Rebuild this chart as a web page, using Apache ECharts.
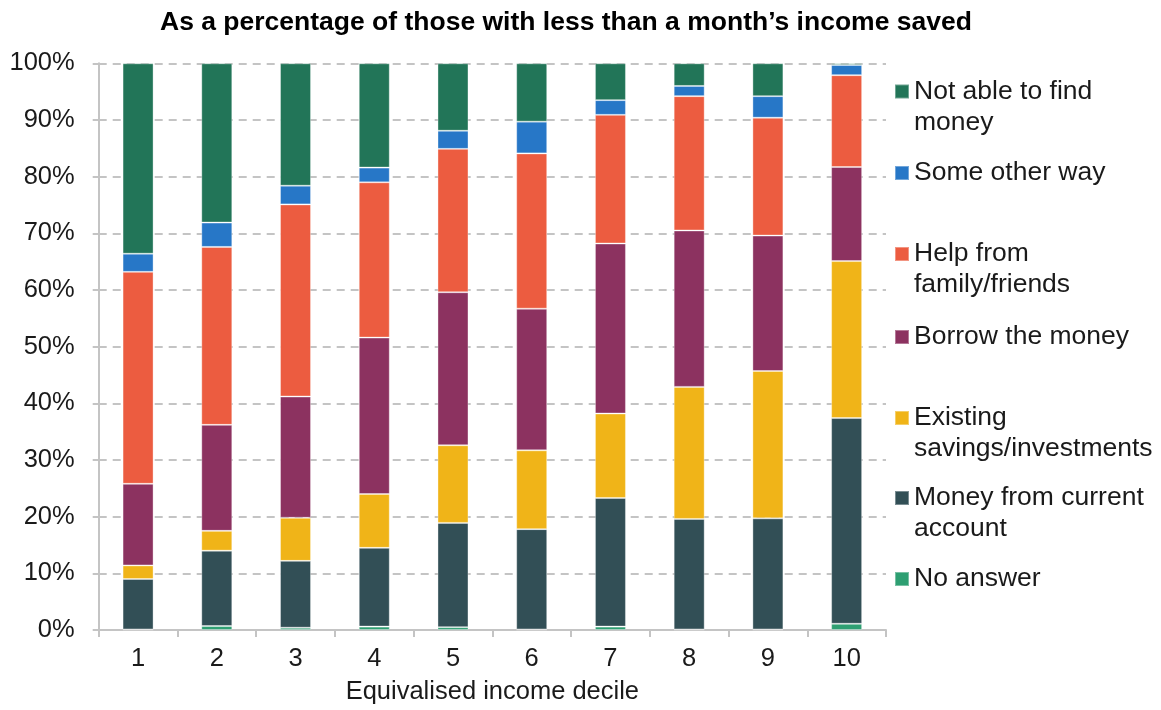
<!DOCTYPE html>
<html>
<head>
<meta charset="utf-8">
<script src="https://cdn.jsdelivr.net/npm/echarts@6/dist/echarts.min.js"></script>
<style>html,body{margin:0;padding:0;background:#fff;}#chart{width:1161px;height:710px;}</style>
</head>
<body>
<div id="chart"></div>
<script>
var deciles = ['1','2','3','4','5','6','7','8','9','10'];
var noAnswer = [0.1, 0.7, 0.4, 0.6, 0.5, 0.1, 0.6, 0.1, 0.1, 1.1];
var currentAccount = [8.9, 13.3, 11.8, 13.9, 18.4, 17.7, 22.7, 19.5, 19.6, 36.3];
var savings = [2.4, 3.5, 7.6, 9.5, 13.7, 13.9, 14.9, 23.3, 26.0, 27.7];
var borrow = [14.4, 18.7, 21.4, 27.6, 27.0, 25.0, 30.0, 27.6, 23.9, 16.6];
var helpFamily = [37.4, 31.4, 33.9, 27.4, 25.3, 27.4, 22.7, 23.7, 20.8, 16.2];
var otherWay = [3.2, 4.3, 3.3, 2.6, 3.2, 5.6, 2.6, 1.8, 3.8, 1.8];
var notAble = [33.6, 28.1, 21.6, 18.4, 11.9, 10.3, 6.5, 4.0, 5.8, 0.3];

var names = ['No answer', 'Money from current\naccount', 'Existing\nsavings/investments', 'Borrow the money', 'Help from\nfamily/friends', 'Some other way', 'Not able to find\nmoney'];
var values = [noAnswer, currentAccount, savings, borrow, helpFamily, otherWay, notAble];
var colors = ['#2e9f72', '#324f56', '#f0b418', '#8c3260', '#ec5c40', '#2777c7', '#227558'];
var legendTops = [563.5, 451.5, 371.5, 321.5, 207.5, 157.5, 45];

var FONT = 'Liberation Sans, Arial, sans-serif';
var chart = echarts.init(document.getElementById('chart'), null, {renderer: 'canvas'});

var series = names.map(function (n, i) {
  return {
    name: n, type: 'bar', stack: 'total', data: values[i], barWidth: 31,
    itemStyle: {color: colors[i], borderColor: 'rgba(255,255,255,0.35)', borderWidth: 1},
    emphasis: {disabled: true}
  };
});

var legends = names.map(function (n, i) {
  var twoLine = n.indexOf('\n') >= 0;
  return {
    data: [n], left: 894, top: legendTops[i], orient: 'vertical', padding: 0,
    itemWidth: 14, itemHeight: 14, icon: 'rect', selectedMode: false,
    formatter: function (name) { return twoLine ? ' \n' + name : name; },
    textStyle: {fontFamily: FONT, fontSize: 26.5, color: '#1a1a1a', lineHeight: 31}
  };
});

chart.setOption({
  animation: false,
  title: {
    text: 'As a percentage of those with less than a month\u2019s income saved',
    left: 160, top: 9, padding: 0,
    textStyle: {fontFamily: FONT, fontSize: 26.5, fontWeight: 'bold', color: '#000'}
  },
  legend: legends,
  grid: {left: 98.7, right: 275, top: 63.3, bottom: 76.7, containLabel: false},
  xAxis: {
    type: 'category', data: deciles, boundaryGap: true,
    name: 'Equivalised income decile', nameLocation: 'middle', nameGap: 49,
    nameTextStyle: {fontFamily: FONT, fontSize: 25.5, color: '#1a1a1a'},
    axisLine: {lineStyle: {color: '#c4c4c4', width: 2}},
    axisTick: {show: true, length: 7, lineStyle: {color: '#c4c4c4', width: 2}},
    axisLabel: {fontFamily: FONT, fontSize: 25.5, color: '#1a1a1a', margin: 16}
  },
  yAxis: {
    type: 'value', min: 0, max: 100, interval: 10,
    axisLine: {show: true, lineStyle: {color: '#c4c4c4', width: 2}},
    axisTick: {show: true, length: 6, lineStyle: {color: '#c4c4c4', width: 2}},
    axisLabel: {fontFamily: FONT, fontSize: 25.5, color: '#1a1a1a', formatter: '{value}%', margin: 24},
    splitLine: {show: true, lineStyle: {color: '#c4c4c4', width: 2, type: [8, 6]}}
  },
  series: series
});
</script>
</body>
</html>
